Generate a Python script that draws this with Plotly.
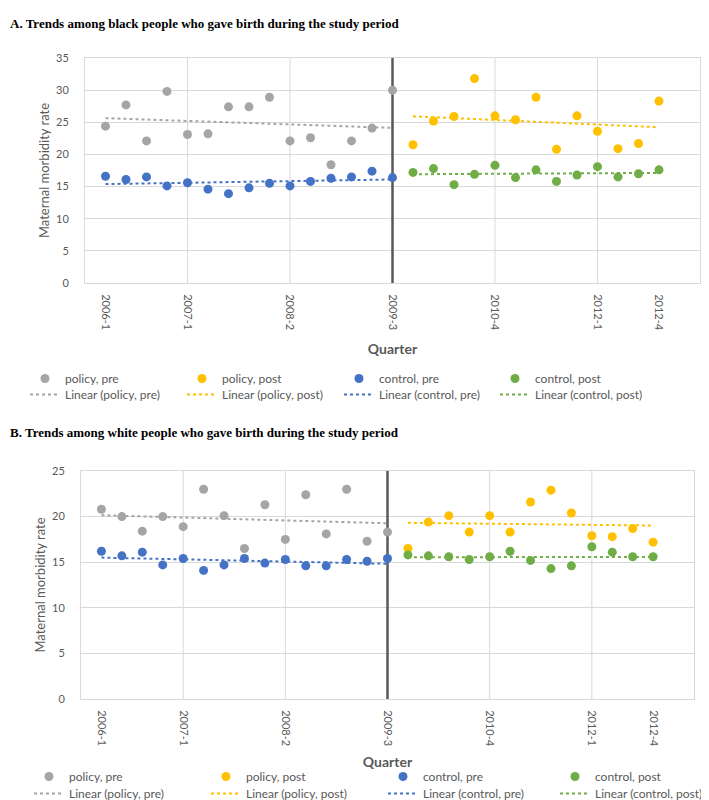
import numpy as np
import plotly.graph_objects as go

W, H = 709, 800

# ---------------- data ----------------
QUARTER_POS = [1, 5, 10, 15, 20, 25, 28]
QUARTER_LABELS = ["2006-1", "2007-1", "2008-2", "2009-3", "2010-4", "2012-1", "2012-4"]
GRID_X = [5, 10, 15, 20, 25]
POLICY_X = 15

x_pre = list(range(1, 16))
x_post = list(range(16, 29))

# Panel A: black people
a_policy_pre = [24.4, 27.7, 22.1, 29.8, 23.1, 23.2, 27.4, 27.4, 28.9, 22.1, 22.6, 18.4, 22.1, 24.1, 30.0]
a_control_pre = [16.6, 16.1, 16.5, 15.1, 15.6, 14.6, 13.9, 14.8, 15.5, 15.1, 15.8, 16.3, 16.5, 17.4, 16.4]
a_policy_post = [21.5, 25.2, 25.9, 31.8, 26.0, 25.4, 28.9, 20.8, 26.0, 23.6, 20.9, 21.7, 28.3]
a_control_post = [17.2, 17.8, 15.3, 16.9, 18.3, 16.4, 17.6, 15.8, 16.8, 18.1, 16.5, 17.0, 17.6]

# Panel B: white people
b_policy_pre = [20.8, 20.0, 18.4, 20.0, 18.9, 23.0, 20.1, 16.5, 21.3, 17.5, 22.4, 18.1, 23.0, 17.3, 18.3]
b_control_pre = [16.2, 15.7, 16.1, 14.7, 15.4, 14.1, 14.7, 15.4, 14.9, 15.3, 14.6, 14.6, 15.3, 15.1, 15.4]
b_policy_post = [16.5, 19.4, 20.1, 18.3, 20.1, 18.3, 21.6, 22.9, 20.4, 17.9, 17.8, 18.7, 17.2]
b_control_post = [15.8, 15.7, 15.6, 15.3, 15.6, 16.2, 15.2, 14.3, 14.6, 16.7, 16.1, 15.6, 15.6]

SERIES_NAMES = ["policy, pre", "policy, post", "control, pre", "control, post"]
COLORS = ["#A5A5A5", "#FFC000", "#4472C4", "#70AD47"]

TITLE_A = "A. Trends among black people who gave birth during the study period"
TITLE_B = "B. Trends among white people who gave birth during the study period"

# ---------------- layout geometry (pixels) ----------------
panels = [
    dict(title=TITLE_A, title_y=15,
         data=[(x_pre, a_policy_pre), (x_post, a_policy_post), (x_pre, a_control_pre), (x_post, a_control_post)],
         px_x=(77, 692), px_y=(50, 275), ymax=35,
         leg_x=[39, 196, 353, 509], leg_rows=(371, 387), q_standoff=14),
    dict(title=TITLE_B, title_y=424,
         data=[(x_pre, b_policy_pre), (x_post, b_policy_post), (x_pre, b_control_pre), (x_post, b_control_post)],
         px_x=(73, 686), px_y=(463, 691), ymax=25,
         leg_x=[43, 220, 397, 569], leg_rows=(769, 786), q_standoff=11),
]

GRID = "#D9D9D9"
TXT = "#595959"
FONT = "Lato"

fig = go.Figure()
layout = dict(width=W, height=H, margin=dict(l=0, r=0, t=0, b=0, autoexpand=False),
              paper_bgcolor="white", plot_bgcolor="white",
              font=dict(family=FONT, color=TXT, size=12),
              annotations=[], shapes=[])

leg_count = [0]


def new_legend(px_marker, py_row):
    leg_count[0] += 1
    name = "legend" if leg_count[0] == 1 else f"legend{leg_count[0]}"
    layout[name] = dict(x=(px_marker - 22) / W, xanchor="left",
                        y=1 - (py_row - 15) / H, yanchor="top",
                        orientation="v", bgcolor="rgba(0,0,0,0)", maxheight=80,
                        font=dict(size=12, color=TXT, family=FONT))
    return name


for pi, p in enumerate(panels):
    xa = "x" if pi == 0 else "x2"
    ya = "y" if pi == 0 else "y2"
    xl = "xaxis" if pi == 0 else "xaxis2"
    yl = "yaxis" if pi == 0 else "yaxis2"
    xd = [p["px_x"][0] / W, p["px_x"][1] / W]
    yd = [1 - p["px_y"][1] / H, 1 - p["px_y"][0] / H]

    layout[xl] = dict(domain=xd, anchor=ya, range=[0, 30], tickmode="array",
                      tickvals=QUARTER_POS, ticktext=QUARTER_LABELS, tickangle=90,
                      showgrid=False, zeroline=False, showline=True, mirror=True,
                      linecolor=GRID, linewidth=1, ticks="", automargin=False,
                      tickfont=dict(size=11, color=TXT), ticklabelstandoff=8,
                      title=dict(text="<b>Quarter</b>", font=dict(size=14, color=TXT),
                                 standoff=p["q_standoff"]))
    layout[yl] = dict(domain=yd, anchor=xa, range=[0, p["ymax"]], dtick=5, tick0=0,
                      showgrid=True, gridcolor=GRID, zeroline=False, showline=True,
                      mirror=True, linecolor=GRID, linewidth=1, automargin=False,
                      ticks="", tickfont=dict(size=11, color=TXT), ticklabelstandoff=13,
                      title=dict(text="Maternal morbidity rate", font=dict(size=13, color=TXT),
                                 standoff=3))

    # vertical gridlines (Excel major unit 5)
    for gx in GRID_X:
        layout["shapes"].append(dict(type="line", xref=xa, yref=f"{ya} domain", x0=gx, x1=gx,
                                     y0=0, y1=1, line=dict(color=GRID, width=1), layer="below"))

    # policy start line (drawn first so the markers sit on top)
    fig.add_trace(go.Scatter(x=[POLICY_X, POLICY_X], y=[0, p["ymax"]], mode="lines",
                             line=dict(color="#595959", width=2.5), showlegend=False,
                             hoverinfo="skip", xaxis=xa, yaxis=ya))

    for si, ((xs, ys), name, col) in enumerate(zip(p["data"], SERIES_NAMES, COLORS)):
        slope, icpt = np.polyfit(xs, ys, 1)
        tx = [xs[0], xs[-1]]
        ty = [slope * v + icpt for v in tx]
        l1 = new_legend(p["leg_x"][si], p["leg_rows"][0])
        l2 = new_legend(p["leg_x"][si], p["leg_rows"][1])
        fig.add_trace(go.Scatter(x=xs, y=ys, mode="markers", name=name,
                                 marker=dict(color=col, size=9), xaxis=xa, yaxis=ya,
                                 legend=l1, cliponaxis=False))
        fig.add_trace(go.Scatter(x=tx, y=ty, mode="lines", name=f"Linear ({name})",
                                 line=dict(color=col, width=2, dash="dot"),
                                 xaxis=xa, yaxis=ya, legend=l2))

    # panel title
    layout["annotations"].append(dict(text=f"<b>{p['title']}</b>", xref="paper", yref="paper",
                                      x=0, y=1 - p["title_y"] / H, xanchor="left", yanchor="middle",
                                      showarrow=False,
                                      font=dict(family="Liberation Serif", size=13, color="black")))

fig.update_layout(**layout)
fig.write_html("out.html")
